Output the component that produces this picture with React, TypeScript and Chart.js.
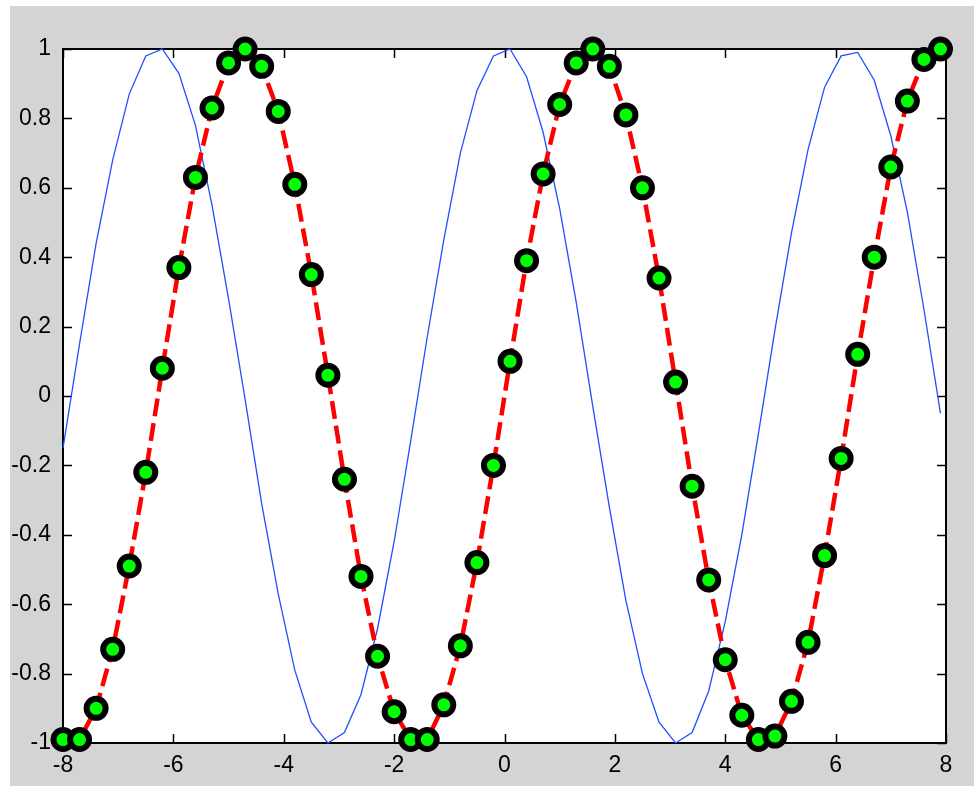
import React, { useEffect, useRef } from "react";
import { Chart, registerables } from "chart.js";

Chart.register(...registerables);

const xValues = [
  -8.0, -7.7, -7.4, -7.1, -6.8, -6.5, -6.2, -5.9, -5.6, -5.3,
  -5.0, -4.7, -4.4, -4.1, -3.8, -3.5, -3.2, -2.9, -2.6, -2.3,
  -2.0, -1.7, -1.4, -1.1, -0.8, -0.5, -0.2, 0.1, 0.4, 0.7,
  1.0, 1.3, 1.6, 1.9, 2.2, 2.5, 2.8, 3.1, 3.4, 3.7,
  4.0, 4.3, 4.6, 4.9, 5.2, 5.5, 5.8, 6.1, 6.4, 6.7,
  7.0, 7.3, 7.6, 7.9,
];

const markerSeries = [
  -0.99, -0.99, -0.90, -0.73, -0.49, -0.22, 0.08, 0.37, 0.63, 0.83,
  0.96, 1.0, 0.95, 0.82, 0.61, 0.35, 0.06, -0.24, -0.52, -0.75,
  -0.91, -0.99, -0.99, -0.89, -0.72, -0.48, -0.2, 0.1, 0.39, 0.64,
  0.84, 0.96, 1.0, 0.95, 0.81, 0.6, 0.34, 0.04, -0.26, -0.53,
  -0.76, -0.92, -0.99, -0.98, -0.88, -0.71, -0.46, -0.18, 0.12, 0.4,
  0.66, 0.85, 0.97, 1.0,
];

const blueSeries = [
  -0.15, 0.15, 0.44, 0.68, 0.87, 0.98, 1.0, 0.93, 0.78, 0.55,
  0.28, -0.01, -0.31, -0.57, -0.79, -0.94, -1.0, -0.97, -0.86, -0.67,
  -0.42, -0.13, 0.17, 0.45, 0.7, 0.88, 0.98, 1.0, 0.92, 0.76,
  0.54, 0.27, -0.03, -0.32, -0.59, -0.8, -0.94, -1.0, -0.97, -0.85,
  -0.65, -0.4, -0.11, 0.19, 0.47, 0.71, 0.89, 0.98, 0.99, 0.91,
  0.75, 0.53, 0.25, -0.05,
];

const xTickValues = [-8, -6, -4, -2, 0, 2, 4, 6, 8];
const yTickValues = [-1, -0.8, -0.6, -0.4, -0.2, 0, 0.2, 0.4, 0.6, 0.8, 1];

const FONT = '"Liberation Sans", Arial, sans-serif';

const boxTicksPlugin = {
  id: "boxTicks",
  beforeDatasetsDraw(chart: any) {
    const { ctx, chartArea } = chart;
    const xs = chart.scales.x;
    const ys = chart.scales.y;
    const tl = 9;
    ctx.save();
    ctx.strokeStyle = "#000";
    ctx.lineWidth = 1.5;
    ctx.beginPath();
    for (const v of xTickValues) {
      const px = Math.round(xs.getPixelForValue(v)) + 0.5;
      ctx.moveTo(px, chartArea.bottom);
      ctx.lineTo(px, chartArea.bottom - tl);
      ctx.moveTo(px, chartArea.top);
      ctx.lineTo(px, chartArea.top + tl);
    }
    for (const v of yTickValues) {
      const py = Math.round(ys.getPixelForValue(v)) + 0.5;
      ctx.moveTo(chartArea.left, py);
      ctx.lineTo(chartArea.left + tl, py);
      ctx.moveTo(chartArea.right, py);
      ctx.lineTo(chartArea.right - tl, py);
    }
    ctx.stroke();
    ctx.lineWidth = 2;
    ctx.strokeRect(
      chartArea.left,
      chartArea.top,
      chartArea.right - chartArea.left,
      chartArea.bottom - chartArea.top
    );
    ctx.restore();
  },
};

const whiteAreaPlugin = {
  id: "whiteArea",
  beforeDraw(chart: any) {
    const { ctx, chartArea } = chart;
    ctx.save();
    ctx.fillStyle = "#ffffff";
    ctx.fillRect(
      chartArea.left,
      chartArea.top,
      chartArea.right - chartArea.left,
      chartArea.bottom - chartArea.top
    );
    ctx.restore();
  },
};

export default function App() {
  const ref = useRef<HTMLCanvasElement | null>(null);

  useEffect(() => {
    if (!ref.current) return;
    const chart = new Chart(ref.current, {
      type: "line",
      data: {
        datasets: [
          {
            data: xValues.map((x, i) => ({ x, y: markerSeries[i] })),
            borderColor: "#ff0000",
            borderWidth: 4.5,
            borderDash: [18, 7],
            pointRadius: 9.5,
            pointBorderWidth: 6,
            pointBackgroundColor: "#00ff00",
            pointBorderColor: "#000000",
            tension: 0,
            clip: false as any,
          },
          {
            data: xValues.map((x, i) => ({ x, y: blueSeries[i] })),
            borderColor: "#1f4fff",
            borderWidth: 1.3,
            pointRadius: 0,
            tension: 0,
            clip: false as any,
          },
        ],
      },
      options: {
        responsive: false,
        animation: false,
        events: [],
        layout: { padding: { top: 49, right: 28, left: 0, bottom: 0 } },
        plugins: {
          legend: { display: false },
          tooltip: { enabled: false },
        },
        scales: {
          x: {
            type: "linear",
            min: -8,
            max: 8,
            afterFit: (s: any) => {
              s.height = 43;
            },
            afterBuildTicks: (s: any) => {
              s.ticks = xTickValues.map((v) => ({ value: v }));
            },
            grid: { display: false, drawTicks: false },
            border: { display: false },
            ticks: {
              color: "#000",
              font: { family: FONT, size: 23 },
              padding: 9,
              maxRotation: 0,
              autoSkip: false,
              callback: (v: any) => String(v),
            },
          },
          y: {
            type: "linear",
            min: -1,
            max: 1,
            afterFit: (s: any) => {
              s.width = 63;
            },
            afterBuildTicks: (s: any) => {
              s.ticks = yTickValues.map((v) => ({ value: v }));
            },
            grid: { display: false, drawTicks: false },
            border: { display: false },
            ticks: {
              color: "#000",
              font: { family: FONT, size: 23 },
              padding: 12,
              autoSkip: false,
              callback: (v: any) => String(Number(Number(v).toFixed(1))),
            },
          },
        },
      },
      plugins: [whiteAreaPlugin, boxTicksPlugin],
    });
    return () => chart.destroy();
  }, []);

  return (
    <div
      style={{
        position: "absolute",
        left: 0,
        top: 0,
        width: 974,
        height: 786,
        background: "#ffffff",
        overflow: "hidden",
      }}
    >
      <div
        style={{
          position: "absolute",
          left: 10,
          top: 6,
          width: 964,
          height: 780,
          background: "#d4d4d4",
        }}
      />
      <canvas
        ref={ref}
        width={974}
        height={786}
        style={{ position: "absolute", left: 0, top: 0, display: "block" }}
      />
    </div>
  );
}
